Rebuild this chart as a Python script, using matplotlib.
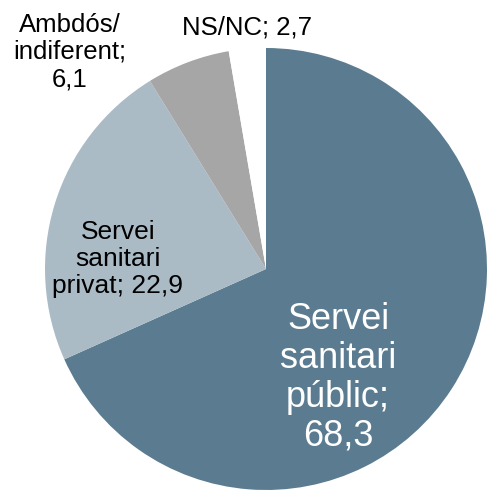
import matplotlib
matplotlib.use("Agg")
import matplotlib.pyplot as plt

plt.rcParams['font.family'] = ['Liberation Sans', 'DejaVu Sans']

# data
labels = ["Servei\nsanitari\npúblic;\n68,3", "Servei\nsanitari\nprivat; 22,9",
          "Ambdós/\nindiferent;\n6,1", "NS/NC; 2,7"]
values = [68.3, 22.9, 6.1, 2.7]
colors = ["#5b7c90", "#abbbc6", "#a6a6a6", "#ffffff"]

fig = plt.figure(figsize=(4.88, 5.0), dpi=100)
ax = fig.add_axes([0, 0, 1, 1])

# pie of radius 1 at origin, clockwise from the top
ax.pie(values, colors=colors, startangle=90, counterclock=False, radius=1.0,
       wedgeprops=dict(linewidth=0))

# axes limits so that centre sits at ~ (266, 269) px with radius ~221 px
cx, cy, r = 266.0, 269.0, 221.0
ax.set_xlim(-cx / r, (488 - cx) / r)
ax.set_ylim((cy - 500) / r, cy / r)
ax.set_aspect('auto')
ax.axis('off')

def px(x, y):
    return (x - cx) / r, (cy - y) / r

# label positions in pixels (centre of text block)
lab_pos = [(338, 378), (118, 259), (70, 52), (247, 28)]
lab_size = [26, 19, 18.5, 18.5]
lab_color = ["white", "black", "black", "black"]
lab_spacing = [1.14, 1.18, 1.17, 1.0]

for t, p, s, c, ls in zip(labels, lab_pos, lab_size, lab_color, lab_spacing):
    x, y = px(*p)
    ax.text(x, y, t, ha='center', va='center', fontsize=s, color=c,
            multialignment='center', linespacing=ls)

fig.savefig("out.png", dpi=100)
